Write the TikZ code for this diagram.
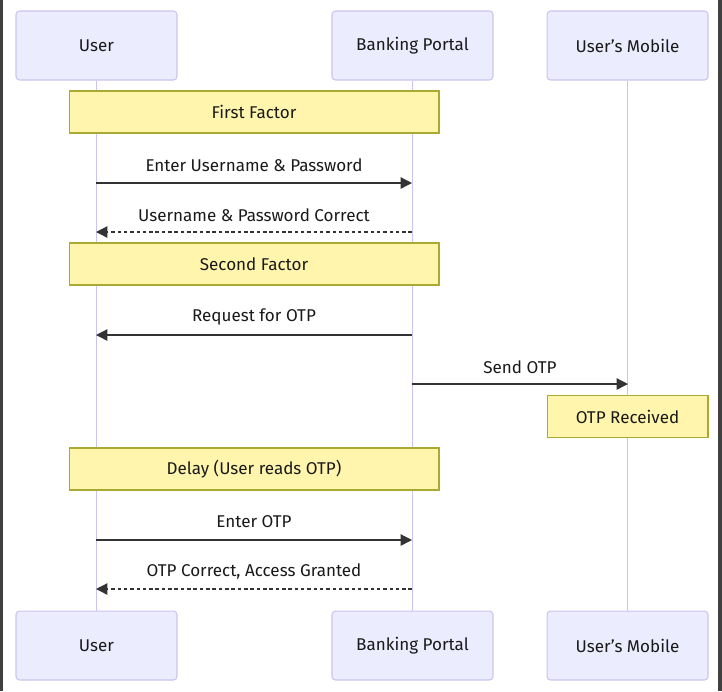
\documentclass[tikz,border=0pt]{standalone}
\usepackage{fontspec}
\setmainfont{Fira Sans}
\usepackage{tikz}
\usetikzlibrary{positioning,arrows.meta}
\definecolor{actorfill}{HTML}{ECECFF}
\definecolor{actorline}{HTML}{CBC3F0}
\definecolor{notefill}{HTML}{FFF5AD}
\definecolor{noteline}{HTML}{AAAA33}
\definecolor{msgline}{HTML}{333333}
\tikzset{
  actor/.style={draw=actorline, fill=actorfill, rounded corners=2pt, line width=0.6pt,
    minimum width=3.22cm, minimum height=1.38cm, font=\fontsize{9.7}{11}\selectfont, text=black!90},
  notebox/.style={draw=noteline, fill=notefill, line width=0.6pt, inner sep=0pt,
    minimum height=0.84cm, font=\fontsize{9.7}{11}\selectfont, text=black!90},
  lifeline/.style={actorline, line width=1pt},
  msg/.style={msgline, line width=0.75pt, -{Triangle[length=6.5pt,width=6.5pt]}},
  reply/.style={msg, dash pattern=on 2pt off 1.6pt},
  msglabel/.style={font=\fontsize{9.7}{11}\selectfont, text=black!90}
}
\begin{document}
\begin{tikzpicture}[x=0.02cm,y=-0.02cm]
\useasboundingbox (0,0) rectangle (722,691);
\fill[black!75] (0,0) rectangle (3,691);
\fill[black!75] (718,0) rectangle (722,691);

% participants
\node[actor] (userTop) at (96.5,45.5) {User};
\node[actor] (portalTop) at (412.5,45.5) {Banking Portal};
\node[actor] (mobileTop) at (627.5,45.5) {User's Mobile};
\node[actor] (userBot) at (96.5,645.5) {User};
\node[actor] (portalBot) at (412.5,645.5) {Banking Portal};
\node[actor] (mobileBot) at (627.5,645.5) {User's Mobile};

\draw[lifeline] (userTop) -- (userBot);
\draw[lifeline] (portalTop) -- (portalBot);
\draw[lifeline] (mobileTop) -- (mobileBot);

% notes
\node[notebox, minimum width=7.4cm] (first) at (254,112) {First Factor};
\node[notebox, minimum width=7.4cm] (second) at (254,264) {Second Factor};
\node[notebox, minimum width=3.22cm] (received) at (627.5,416.5) {OTP Received};
\node[notebox, minimum width=7.4cm] (delay) at (254,469) {Delay (User reads OTP)};

% messages
\coordinate (u1) at (96,183);  \coordinate (p1) at (412,183);
\coordinate (u2) at (96,232);  \coordinate (p2) at (412,232);
\coordinate (u3) at (96,335);  \coordinate (p3) at (412,335);
\coordinate (p4) at (412,384); \coordinate (m4) at (628,384);
\coordinate (u5) at (96,540);  \coordinate (p5) at (412,540);
\coordinate (u6) at (96,589);  \coordinate (p6) at (412,589);

\node[msglabel] (login) at (254,165) {Enter Username \& Password};
\draw[msg] (u1) -- (p1);
\node[msglabel] (loginok) at (254,215) {Username \& Password Correct};
\draw[reply] (p2) -- (u2);
\node[msglabel] (request) at (254,317) {Request for OTP};
\draw[msg] (p3) -- (u3);
\node[msglabel] (send) at (520,367) {Send OTP};
\draw[msg] (p4) -- (m4);
\node[msglabel] (enter) at (254,522) {Enter OTP};
\draw[msg] (u5) -- (p5);
\node[msglabel] (granted) at (254,572) {OTP Correct, Access Granted};
\draw[reply] (p6) -- (u6);
\end{tikzpicture}
\end{document}
